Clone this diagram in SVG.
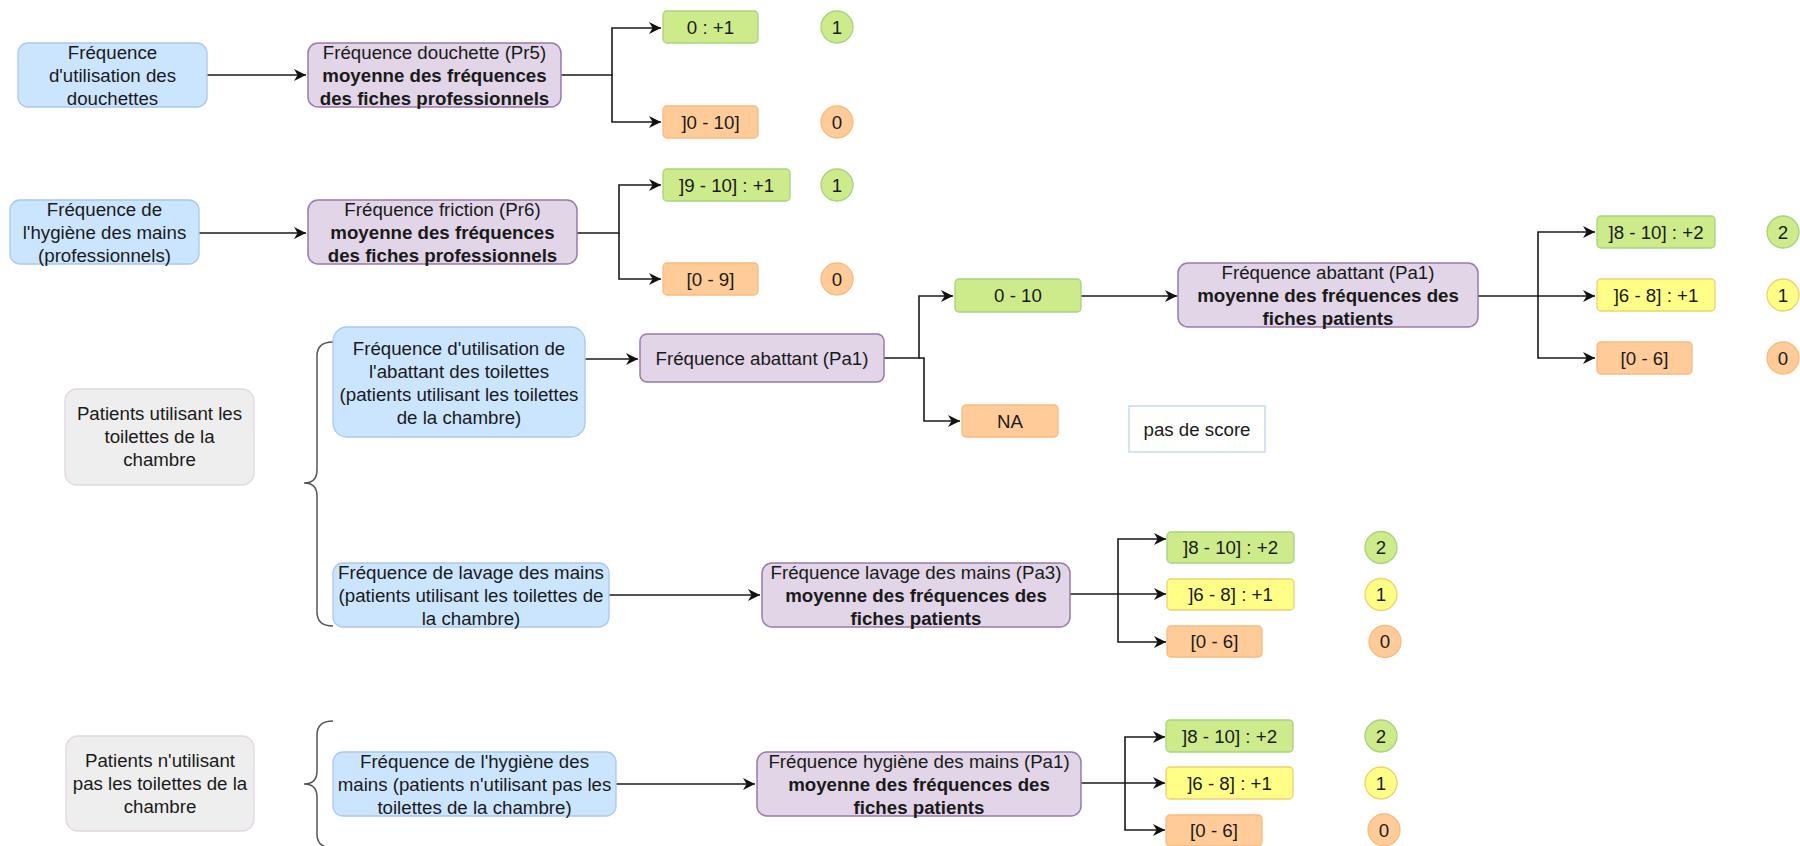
<svg xmlns="http://www.w3.org/2000/svg" width="1800" height="846" viewBox="0 0 1800 846">
<defs>
<marker id="arr" markerUnits="userSpaceOnUse" markerWidth="12" markerHeight="12" refX="10" refY="5" orient="auto" viewBox="0 0 10 10">
<path d="M0,0 L10,5 L0,10 L3,5 z" fill="#111"/>
</marker>
<style>
text{font-family:"Liberation Sans",Arial,sans-serif;font-size:18.7px;fill:#1a1a1a;text-anchor:middle}
.b{font-weight:bold}
.blue{fill:#cce5ff;stroke:#a9c8ee;stroke-width:1.3}
.purple{fill:#e1d5e7;stroke:#9a7aab;stroke-width:1.5}
.green{fill:#cdeb8b;stroke:#a6d37f;stroke-width:1.3}
.orange{fill:#ffcc99;stroke:#f7bb80;stroke-width:1.3}
.yellow{fill:#ffff88;stroke:#f0d070;stroke-width:1.3}
.gray{fill:#eeeeee;stroke:#e3d6e3;stroke-width:1.3}
.note{fill:#ffffff;stroke:#c6d9f0;stroke-width:1.5}
.c{fill:none;stroke:#1a1a1a;stroke-width:1.6}
.brace{fill:none;stroke:#555;stroke-width:1.5}
</style>
</defs>

<g id="connectors">
<path class="c" d="M207,75 H306" marker-end="url(#arr)"/>
<path class="c" d="M561,75 H612 V28 H661" marker-end="url(#arr)"/>
<path class="c" d="M612,75 V122 H661" marker-end="url(#arr)"/>
<path class="c" d="M199,233 H306" marker-end="url(#arr)"/>
<path class="c" d="M577,233 H619 V185 H661" marker-end="url(#arr)"/>
<path class="c" d="M619,233 V279 H661" marker-end="url(#arr)"/>
<path class="c" d="M585,359 H638" marker-end="url(#arr)"/>
<path class="c" d="M884,358 H919 V296 H953" marker-end="url(#arr)"/>
<path class="c" d="M919,358 H924 V421 H960" marker-end="url(#arr)"/>
<path class="c" d="M1081,296 H1177" marker-end="url(#arr)"/>
<path class="c" d="M1478,296 H1595" marker-end="url(#arr)"/>
<path class="c" d="M1538,296 V232 H1595" marker-end="url(#arr)"/>
<path class="c" d="M1538,296 V358 H1595" marker-end="url(#arr)"/>
<path class="c" d="M609,595 H760" marker-end="url(#arr)"/>
<path class="c" d="M1070,594 H1166" marker-end="url(#arr)"/>
<path class="c" d="M1118,594 V539 H1166" marker-end="url(#arr)"/>
<path class="c" d="M1118,594 V642 H1166" marker-end="url(#arr)"/>
<path class="c" d="M616,784 H755" marker-end="url(#arr)"/>
<path class="c" d="M1081,783 H1165" marker-end="url(#arr)"/>
<path class="c" d="M1125,783 V737 H1165" marker-end="url(#arr)"/>
<path class="c" d="M1125,783 V830 H1165" marker-end="url(#arr)"/>
</g>

<g id="brace1"><path class="brace" d="M333,342 Q317,342 317,356 V470 Q317,483 304,483 Q317,483 317,496 V612 Q317,626 333,626"/></g>
<g id="brace2"><path class="brace" d="M333,721 Q317,721 317,735 V771 Q317,784 304,784 Q317,784 317,797 V834 Q317,848 333,848"/></g>

<!-- Row 1 -->
<g id="n_douchettes"><rect class="blue" x="18" y="43" width="189" height="64" rx="10"/>
<text x="112.5" y="58.5">Fréquence</text><text x="112.5" y="81.5">d'utilisation des</text><text x="112.5" y="104.5">douchettes</text></g>
<g id="n_pr5"><rect class="purple" x="308" y="43" width="253" height="64" rx="10"/>
<text x="434.5" y="58.5">Fréquence douchette (Pr5)</text><text class="b" x="434.5" y="81.5">moyenne des fréquences</text><text class="b" x="434.5" y="104.5">des fiches professionnels</text></g>
<g id="n_r1a"><rect class="green" x="663" y="11" width="95" height="32" rx="4"/><text x="710.5" y="33.5">0 : +1</text></g>
<g id="n_r1b"><rect class="orange" x="663" y="106" width="95" height="32" rx="4"/><text x="710.5" y="128.5">]0 - 10]</text></g>
<g id="s_r1a"><circle class="green" cx="837" cy="27" r="16"/><text x="837" y="33.5">1</text></g>
<g id="s_r1b"><circle class="orange" cx="837" cy="122" r="16"/><text x="837" y="128.5">0</text></g>

<!-- Row 2 -->
<g id="n_hyg_pro"><rect class="blue" x="10" y="200" width="189" height="64" rx="10"/>
<text x="104.5" y="215.5">Fréquence de</text><text x="104.5" y="238.5">l'hygiène des mains</text><text x="104.5" y="261.5">(professionnels)</text></g>
<g id="n_pr6"><rect class="purple" x="308" y="200" width="269" height="64" rx="10"/>
<text x="442.5" y="215.5">Fréquence friction (Pr6)</text><text class="b" x="442.5" y="238.5">moyenne des fréquences</text><text class="b" x="442.5" y="261.5">des fiches professionnels</text></g>
<g id="n_r2a"><rect class="green" x="663" y="169" width="127" height="32" rx="4"/><text x="726.5" y="191.5">]9 - 10] : +1</text></g>
<g id="n_r2b"><rect class="orange" x="663" y="263" width="95" height="32" rx="4"/><text x="710.5" y="285.5">[0 - 9]</text></g>
<g id="s_r2a"><circle class="green" cx="837" cy="185" r="16"/><text x="837" y="191.5">1</text></g>
<g id="s_r2b"><circle class="orange" cx="837" cy="279" r="16"/><text x="837" y="285.5">0</text></g>

<!-- Group 1 -->
<g id="n_pat_util"><rect class="gray" x="65" y="389" width="189" height="96" rx="12"/>
<text x="159.5" y="420">Patients utilisant les</text><text x="159.5" y="443">toilettes de la</text><text x="159.5" y="466">chambre</text></g>
<g id="n_abattant"><rect class="blue" x="333" y="327" width="252" height="110" rx="14"/>
<text x="459" y="354.5">Fréquence d'utilisation de</text><text x="459" y="377.5">l'abattant des toilettes</text><text x="459" y="400.5">(patients utilisant les toilettes</text><text x="459" y="423.5">de la chambre)</text></g>
<g id="n_pa1a"><rect class="purple" x="640" y="334" width="244" height="48" rx="7"/><text x="762" y="364.5">Fréquence abattant (Pa1)</text></g>
<g id="n_010"><rect class="green" x="955" y="279" width="126" height="33" rx="4"/><text x="1018" y="302">0 - 10</text></g>
<g id="n_na"><rect class="orange" x="962" y="405" width="96" height="32" rx="4"/><text x="1010" y="427.5">NA</text></g>
<g id="n_noscore"><rect class="note" x="1129" y="406" width="136" height="46"/><text x="1197" y="435.5">pas de score</text></g>
<g id="n_pa1b"><rect class="purple" x="1178" y="263" width="300" height="64" rx="10"/>
<text x="1328" y="278.5">Fréquence abattant (Pa1)</text><text class="b" x="1328" y="301.5">moyenne des fréquences des</text><text class="b" x="1328" y="324.5">fiches patients</text></g>
<g id="n_r3a"><rect class="green" x="1597" y="216" width="118" height="32" rx="4"/><text x="1656" y="238.5">]8 - 10] : +2</text></g>
<g id="n_r3b"><rect class="yellow" x="1597" y="279" width="118" height="32" rx="4"/><text x="1656" y="301.5">]6 - 8] : +1</text></g>
<g id="n_r3c"><rect class="orange" x="1597" y="342" width="95" height="32" rx="4"/><text x="1644.5" y="364.5">[0 - 6]</text></g>
<g id="s_r3a"><circle class="green" cx="1783" cy="232" r="16"/><text x="1783" y="238.5">2</text></g>
<g id="s_r3b"><circle class="yellow" cx="1783" cy="295" r="16"/><text x="1783" y="301.5">1</text></g>
<g id="s_r3c"><circle class="orange" cx="1783" cy="358" r="16"/><text x="1783" y="364.5">0</text></g>

<g id="n_lavage"><rect class="blue" x="333" y="563" width="276" height="64" rx="10"/>
<text x="471" y="578.5">Fréquence de lavage des mains</text><text x="471" y="601.5">(patients utilisant les toilettes de</text><text x="471" y="624.5">la chambre)</text></g>
<g id="n_pa3"><rect class="purple" x="762" y="563" width="308" height="64" rx="10"/>
<text x="916" y="578.5">Fréquence lavage des mains (Pa3)</text><text class="b" x="916" y="601.5">moyenne des fréquences des</text><text class="b" x="916" y="624.5">fiches patients</text></g>
<g id="n_r4a"><rect class="green" x="1167" y="532" width="127" height="31" rx="4"/><text x="1230.5" y="554">]8 - 10] : +2</text></g>
<g id="n_r4b"><rect class="yellow" x="1167" y="579" width="127" height="31" rx="4"/><text x="1230.5" y="601">]6 - 8] : +1</text></g>
<g id="n_r4c"><rect class="orange" x="1167" y="626" width="95" height="31" rx="4"/><text x="1214.5" y="648">[0 - 6]</text></g>
<g id="s_r4a"><circle class="green" cx="1381" cy="547.5" r="16"/><text x="1381" y="554">2</text></g>
<g id="s_r4b"><circle class="yellow" cx="1381" cy="594.5" r="16"/><text x="1381" y="601">1</text></g>
<g id="s_r4c"><circle class="orange" cx="1385" cy="641.5" r="16"/><text x="1385" y="648">0</text></g>

<!-- Group 2 -->
<g id="n_pat_nonutil"><rect class="gray" x="66" y="736" width="188" height="95" rx="12"/>
<text x="160" y="767">Patients n'utilisant</text><text x="160" y="790">pas les toilettes de la</text><text x="160" y="813">chambre</text></g>
<g id="n_hyg_pat"><rect class="blue" x="333" y="752" width="283" height="64" rx="10"/>
<text x="474.5" y="767.5">Fréquence de l'hygiène des</text><text x="474.5" y="790.5">mains (patients n'utilisant pas les</text><text x="474.5" y="813.5">toilettes de la chambre)</text></g>
<g id="n_pa1c"><rect class="purple" x="757" y="752" width="324" height="64" rx="10"/>
<text x="919" y="767.5">Fréquence hygiène des mains (Pa1)</text><text class="b" x="919" y="790.5">moyenne des fréquences des</text><text class="b" x="919" y="813.5">fiches patients</text></g>
<g id="n_r5a"><rect class="green" x="1166" y="720" width="127" height="32" rx="4"/><text x="1229.5" y="742.5">]8 - 10] : +2</text></g>
<g id="n_r5b"><rect class="yellow" x="1166" y="767" width="127" height="32" rx="4"/><text x="1229.5" y="789.5">]6 - 8] : +1</text></g>
<g id="n_r5c"><rect class="orange" x="1166" y="815" width="96" height="31" rx="4"/><text x="1214" y="836.5">[0 - 6]</text></g>
<g id="s_r5a"><circle class="green" cx="1381" cy="736" r="16"/><text x="1381" y="742.5">2</text></g>
<g id="s_r5b"><circle class="yellow" cx="1381" cy="783" r="16"/><text x="1381" y="789.5">1</text></g>
<g id="s_r5c"><circle class="orange" cx="1384" cy="830" r="16"/><text x="1384" y="836.5">0</text></g>
</svg>
